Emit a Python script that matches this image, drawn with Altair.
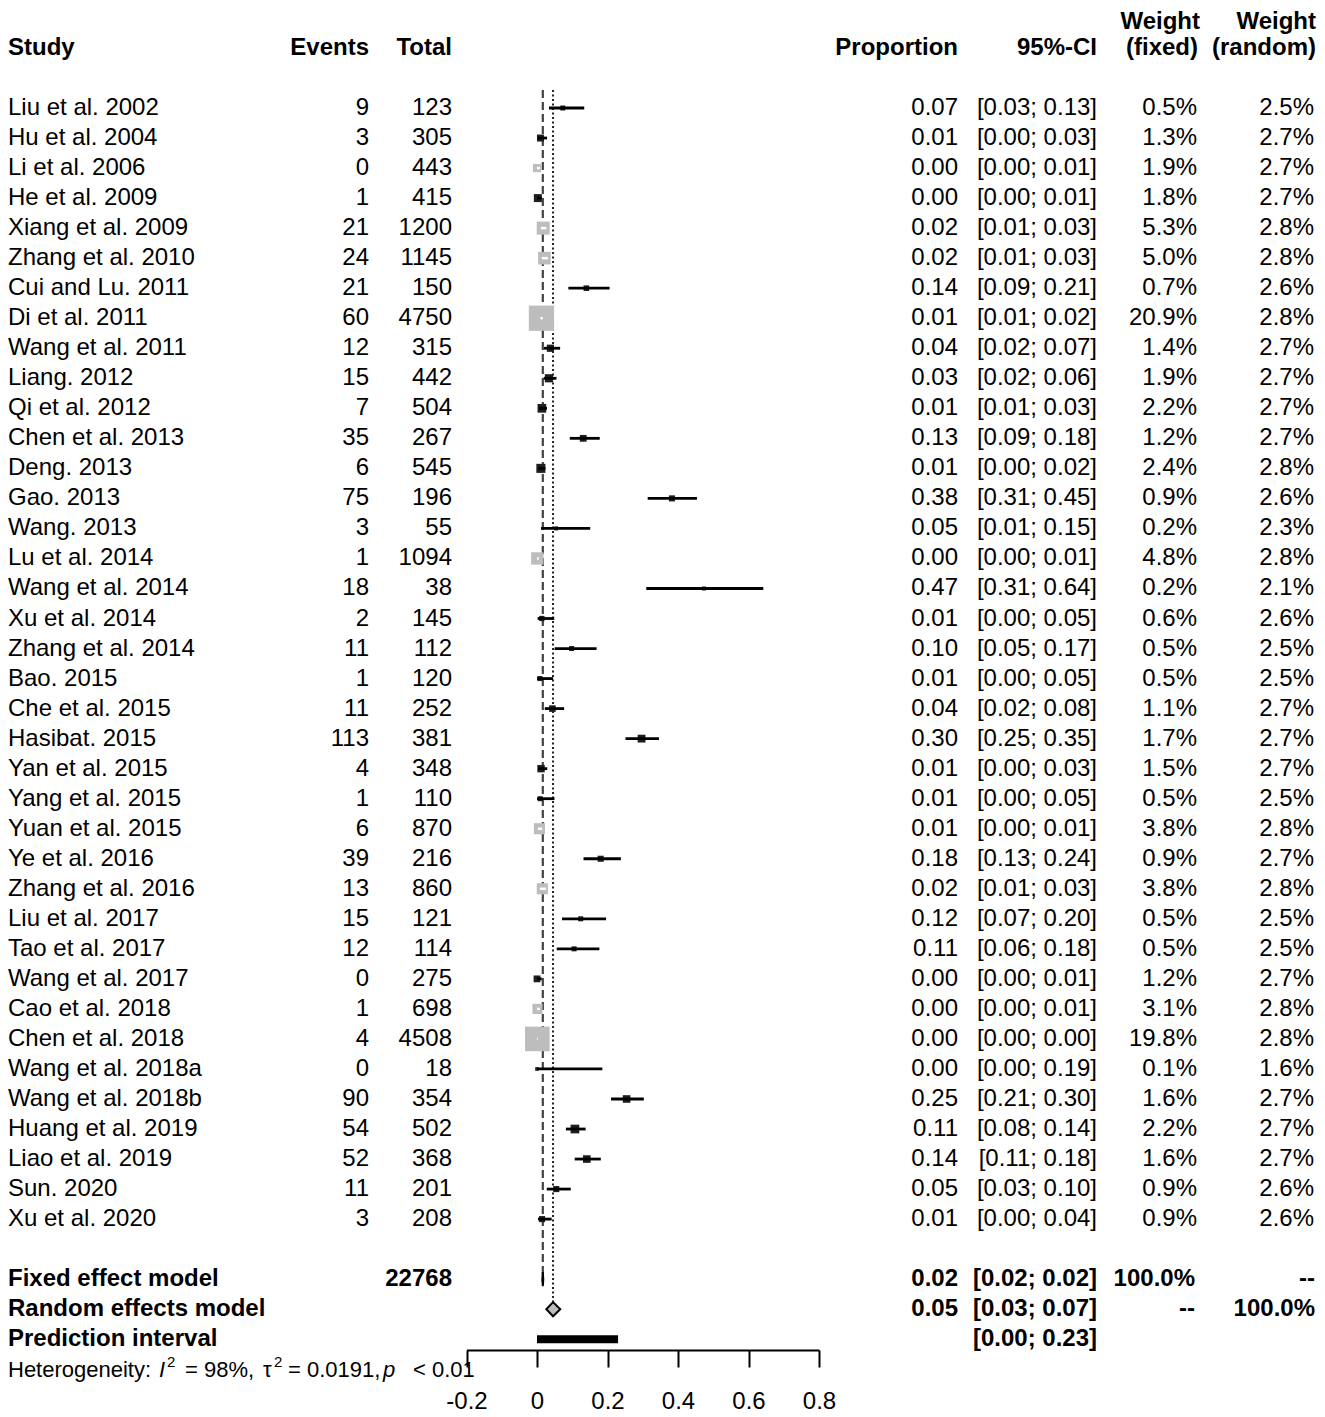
import math
import altair as alt
import pandas as pd

# ---------------- data ----------------
studies = ["Liu et al. 2002", "Hu et al. 2004", "Li et al. 2006", "He et al. 2009", "Xiang et al. 2009",
           "Zhang et al. 2010", "Cui and Lu. 2011", "Di et al. 2011", "Wang et al. 2011", "Liang. 2012",
           "Qi et al. 2012", "Chen et al. 2013", "Deng. 2013", "Gao. 2013", "Wang. 2013",
           "Lu et al. 2014", "Wang et al. 2014", "Xu et al. 2014", "Zhang et al. 2014", "Bao. 2015",
           "Che et al. 2015", "Hasibat. 2015", "Yan et al. 2015", "Yang et al. 2015", "Yuan et al. 2015",
           "Ye et al. 2016", "Zhang et al. 2016", "Liu et al. 2017", "Tao et al. 2017", "Wang et al. 2017",
           "Cao et al. 2018", "Chen et al. 2018", "Wang et al. 2018a", "Wang et al. 2018b", "Huang et al. 2019",
           "Liao et al. 2019", "Sun. 2020", "Xu et al. 2020"]
events = [9, 3, 0, 1, 21, 24, 21, 60, 12, 15, 7, 35, 6, 75, 3, 1, 18, 2, 11, 1,
          11, 113, 4, 1, 6, 39, 13, 15, 12, 0, 1, 4, 0, 90, 54, 52, 11, 3]
totals = [123, 305, 443, 415, 1200, 1145, 150, 4750, 315, 442, 504, 267, 545, 196, 55, 1094, 38, 145, 112, 120,
          252, 381, 348, 110, 870, 216, 860, 121, 114, 275, 698, 4508, 18, 354, 502, 368, 201, 208]
proportion = [0.0732, 0.0098, 0.0, 0.0024, 0.0176, 0.021, 0.14, 0.0126, 0.0381, 0.0339,
              0.0139, 0.1311, 0.011, 0.3827, 0.0545, 0.0009, 0.4737, 0.0138, 0.0982, 0.0083,
              0.0437, 0.2966, 0.0115, 0.0091, 0.0069, 0.1806, 0.0151, 0.124, 0.1053, 0.0,
              0.0014, 0.0009, 0.0, 0.2542, 0.1076, 0.1413, 0.0547, 0.0144]
ci_low = [0.034, 0.002, 0.0, 0.0001, 0.0109, 0.0135, 0.089, 0.0097, 0.0198, 0.0191,
          0.0056, 0.093, 0.004, 0.314, 0.0114, 0.0, 0.31, 0.0017, 0.05, 0.0002,
          0.022, 0.251, 0.0031, 0.0002, 0.0025, 0.132, 0.0081, 0.071, 0.056, 0.0,
          0.0, 0.0002, 0.0, 0.21, 0.082, 0.107, 0.0276, 0.003]
ci_high = [0.134, 0.0285, 0.0083, 0.0134, 0.0266, 0.031, 0.206, 0.0162, 0.0656, 0.0553,
           0.0284, 0.178, 0.0238, 0.454, 0.151, 0.0051, 0.642, 0.0489, 0.169, 0.0456,
           0.077, 0.346, 0.0292, 0.0496, 0.0149, 0.238, 0.0257, 0.196, 0.177, 0.0133,
           0.008, 0.0023, 0.1853, 0.303, 0.138, 0.181, 0.0958, 0.0416]
weight_fixed = [0.5, 1.3, 1.9, 1.8, 5.3, 5.0, 0.7, 20.9, 1.4, 1.9, 2.2, 1.2, 2.4, 0.9, 0.2, 4.8, 0.2, 0.6, 0.5, 0.5,
                1.1, 1.7, 1.5, 0.5, 3.8, 0.9, 3.8, 0.5, 0.5, 1.2, 3.1, 19.8, 0.1, 1.6, 2.2, 1.6, 0.9, 0.9]
weight_random = [2.5, 2.7, 2.7, 2.7, 2.8, 2.8, 2.6, 2.8, 2.7, 2.7, 2.7, 2.7, 2.8, 2.6, 2.3, 2.8, 2.1, 2.6, 2.5, 2.5,
                 2.7, 2.7, 2.7, 2.5, 2.8, 2.7, 2.8, 2.5, 2.5, 2.7, 2.8, 2.8, 1.6, 2.7, 2.7, 2.7, 2.6, 2.6]

fixed_est, fixed_low, fixed_high = 0.0165, 0.0152, 0.0178
random_est, random_low, random_high = 0.0455, 0.0265, 0.066
pred_low, pred_high = 0.0, 0.23
total_n = 22768
het_i2 = "98%"
het_tau2 = "0.0191"
het_p = "0.01"
axis_ticks = [-0.2, 0, 0.2, 0.4, 0.6, 0.8]

# ---------------- layout constants ----------------
FONT = "Liberation Sans"
FS = 24
PX_PER_UNIT = 352.5
ROW0 = 96          # plot-area y of first study row (padding top = 4)
ROWSTEP = 30.03
xscale = alt.Scale(domain=[-0.2, 0.8], range=[458.5, 811], nice=False, zero=False)
yscale = alt.Scale(domain=[0, 37], range=[ROW0, ROW0 + 37 * ROWSTEP], nice=False, zero=False)
AREA_PER_W = 30.0  # square area (px^2) per percent of fixed weight
AREA_MIN = 10.0

AX = alt.Axis(values=axis_ticks, title=None, grid=False, tickSize=17, tickWidth=2, tickColor="black",
              domainColor="black", domainWidth=2, labelFont=FONT, labelFontSize=24, labelColor="black",
              labelPadding=22, labelFlush=False, labelOverlap=False,
              labelExpr="datum.value < -0.0001 ? '-' + format(-datum.value, '.1f') : "
                        "(abs(datum.value) < 0.0001 ? '0' : format(datum.value, '.1f'))")


def X(field):
    return alt.X(field, scale=xscale, axis=AX)


df = pd.DataFrame({
    "study": studies, "events": events, "total": totals, "prop": proportion,
    "lo": ci_low, "hi": ci_high, "wf": weight_fixed, "wr": weight_random,
})
df["row"] = range(len(df))
df["events_txt"] = df["events"].astype(str)
df["total_txt"] = df["total"].astype(str)
df["prop_txt"] = df["prop"].map(lambda v: f"{v:.2f}")
df["ci_txt"] = [f"[{a:.2f}; {b:.2f}]" for a, b in zip(df["lo"], df["hi"])]
df["wf_txt"] = df["wf"].map(lambda v: f"{v:.1f}%")
df["wr_txt"] = df["wr"].map(lambda v: f"{v:.1f}%")
half = df["wf"].map(lambda w: math.sqrt(AREA_PER_W * w) / 2 / PX_PER_UNIT)
df["inside"] = ((df["prop"] - df["lo"]) <= half) & ((df["hi"] - df["prop"]) <= half)

Y = alt.Y("row:Q", scale=yscale, axis=None)


def text_layer(data, field, xpx, align="right", bold=False, size=FS, italic=False):
    return alt.Chart(data).mark_text(
        align=align, baseline="middle", font=FONT, fontSize=size,
        fontWeight="bold" if bold else "normal", fontStyle="italic" if italic else "normal", color="black"
    ).encode(x=alt.value(xpx), y=Y, text=f"{field}:N")


def const_text(s, xpx, row, align="right", bold=True, size=FS, italic=False):
    d = pd.DataFrame({"t": [s], "row": [row]})
    return text_layer(d, "t", xpx, align=align, bold=bold, size=size, italic=italic)


size_enc = alt.Size("wf:Q", scale=alt.Scale(domain=[0, 20.9], range=[AREA_MIN, AREA_MIN + AREA_PER_W * 20.9],
                                            zero=False), legend=None)

# ---------------- study marks ----------------
sq_in = alt.Chart(df).transform_filter("datum.inside").mark_square(color="#bdbdbd", opacity=1).encode(
    x=X("prop:Q"), y=Y, size=size_enc)
sq_out = alt.Chart(df).transform_filter("!datum.inside").mark_square(color="#1e1e1e", opacity=1).encode(
    x=X("prop:Q"), y=Y, size=size_enc)
ci_out = alt.Chart(df).transform_filter("!datum.inside").mark_rule(color="black", strokeWidth=2.8).encode(
    x=X("lo:Q"), x2="hi:Q", y=Y)
ci_in = alt.Chart(df).transform_filter("datum.inside").mark_rule(color="white", strokeWidth=2.5).encode(
    x=X("lo:Q"), x2="hi:Q", y=Y)

# ---------------- reference lines ----------------
ref = pd.DataFrame({"fixed": [fixed_est], "random": [random_est], "top": [-0.6], "fbot": [39.1], "rbot": [39.75]})
fixed_line = alt.Chart(ref).mark_rule(color="#444444", strokeWidth=2.2, strokeDash=[8, 4]).encode(
    x=X("fixed:Q"), y=alt.Y("top:Q", scale=yscale, axis=None), y2="fbot:Q")
random_line = alt.Chart(ref).mark_rule(color="#222222", strokeWidth=2, strokeDash=[2, 2.5]).encode(
    x=X("random:Q"), y=alt.Y("top:Q", scale=yscale, axis=None), y2="rbot:Q")

# ---------------- summary diamonds ----------------
H = 0.235
dia = pd.DataFrame({
    "model": ["fixed"] * 3 + ["random"] * 3,
    "x": [fixed_low, fixed_est, fixed_high, random_low, random_est, random_high],
    "y": [39, 39 - H, 39, 40, 40 - H, 40],
    "y2": [39, 39 + H, 39, 40, 40 + H, 40],
})
diamonds = alt.Chart(dia).mark_area(color="#bdbdbd", stroke="black", strokeWidth=2, opacity=1).encode(
    x=X("x:Q"), y=alt.Y("y:Q", scale=yscale, axis=None), y2="y2:Q", detail="model:N")
pred = pd.DataFrame({"lo": [pred_low], "hi": [pred_high], "row": [41]})
pred_bar = alt.Chart(pred).mark_rule(color="black", strokeWidth=8).encode(x=X("lo:Q"), x2="hi:Q", y=Y)

# ---------------- text tables ----------------
summary = pd.DataFrame({
    "row": [39, 40, 41],
    "label": ["Fixed effect model", "Random effects model", "Prediction interval"],
    "n": [str(total_n), "", ""],
    "p": [f"{fixed_est:.2f}", f"{random_est:.2f}", ""],
    "ci": [f"[{fixed_low:.2f}; {fixed_high:.2f}]", f"[{random_low:.2f}; {random_high:.2f}]",
           f"[{pred_low:.2f}; {pred_high:.2f}]"],
    "wf": ["100.0%", "--", ""],
    "wr": ["--", "100.0%", ""],
})

HR = 42.02  # heterogeneity line row
het_layers = [
    const_text("Heterogeneity:", 0, HR, align="left", bold=False, size=22),
    const_text("I", 151, HR, align="left", bold=False, size=22, italic=True),
    const_text("2", 159, HR - 0.27, align="left", bold=False, size=15),
    const_text("= " + het_i2 + ",", 177, HR, align="left", bold=False, size=22),
    const_text("\u03c4", 255, HR, align="left", bold=False, size=22),
    const_text("2", 266, HR - 0.27, align="left", bold=False, size=15),
    const_text("= " + het_tau2 + ",", 280, HR, align="left", bold=False, size=22),
    const_text("p", 375, HR, align="left", bold=False, size=22, italic=True),
    const_text("< " + het_p, 405, HR, align="left", bold=False, size=22),
]

layers = [
    fixed_line, random_line, sq_in, sq_out, ci_out, ci_in, diamonds, pred_bar,
    const_text("Study", 0, -2, align="left"),
    const_text("Events", 361, -2),
    const_text("Total", 444, -2),
    const_text("Proportion", 950, -2),
    const_text("95%-CI", 1089, -2),
    const_text("Weight", 1192, -2.86),
    const_text("(fixed)", 1190, -2),
    const_text("Weight", 1308, -2.86),
    const_text("(random)", 1308, -2),
    text_layer(df, "study", 0, align="left"),
    text_layer(df, "events_txt", 361),
    text_layer(df, "total_txt", 444),
    text_layer(df, "prop_txt", 950),
    text_layer(df, "ci_txt", 1089),
    text_layer(df, "wf_txt", 1189),
    text_layer(df, "wr_txt", 1306),
    text_layer(summary, "label", 0, align="left", bold=True),
    text_layer(summary, "n", 444, bold=True),
    text_layer(summary, "p", 950, bold=True),
    text_layer(summary, "ci", 1089, bold=True),
    text_layer(summary, "wf", 1187, bold=True),
    text_layer(summary, "wr", 1307, bold=True),
] + het_layers

chart = alt.layer(*layers).properties(
    width=1309, height=1338,
    autosize=alt.AutoSizeParams(type="none"),
    padding={"left": 0, "top": 4, "right": 0, "bottom": 70},
).configure(background="white").configure_view(stroke=None)

chart.save("out.html", embed_options={"renderer": "svg", "actions": False})
